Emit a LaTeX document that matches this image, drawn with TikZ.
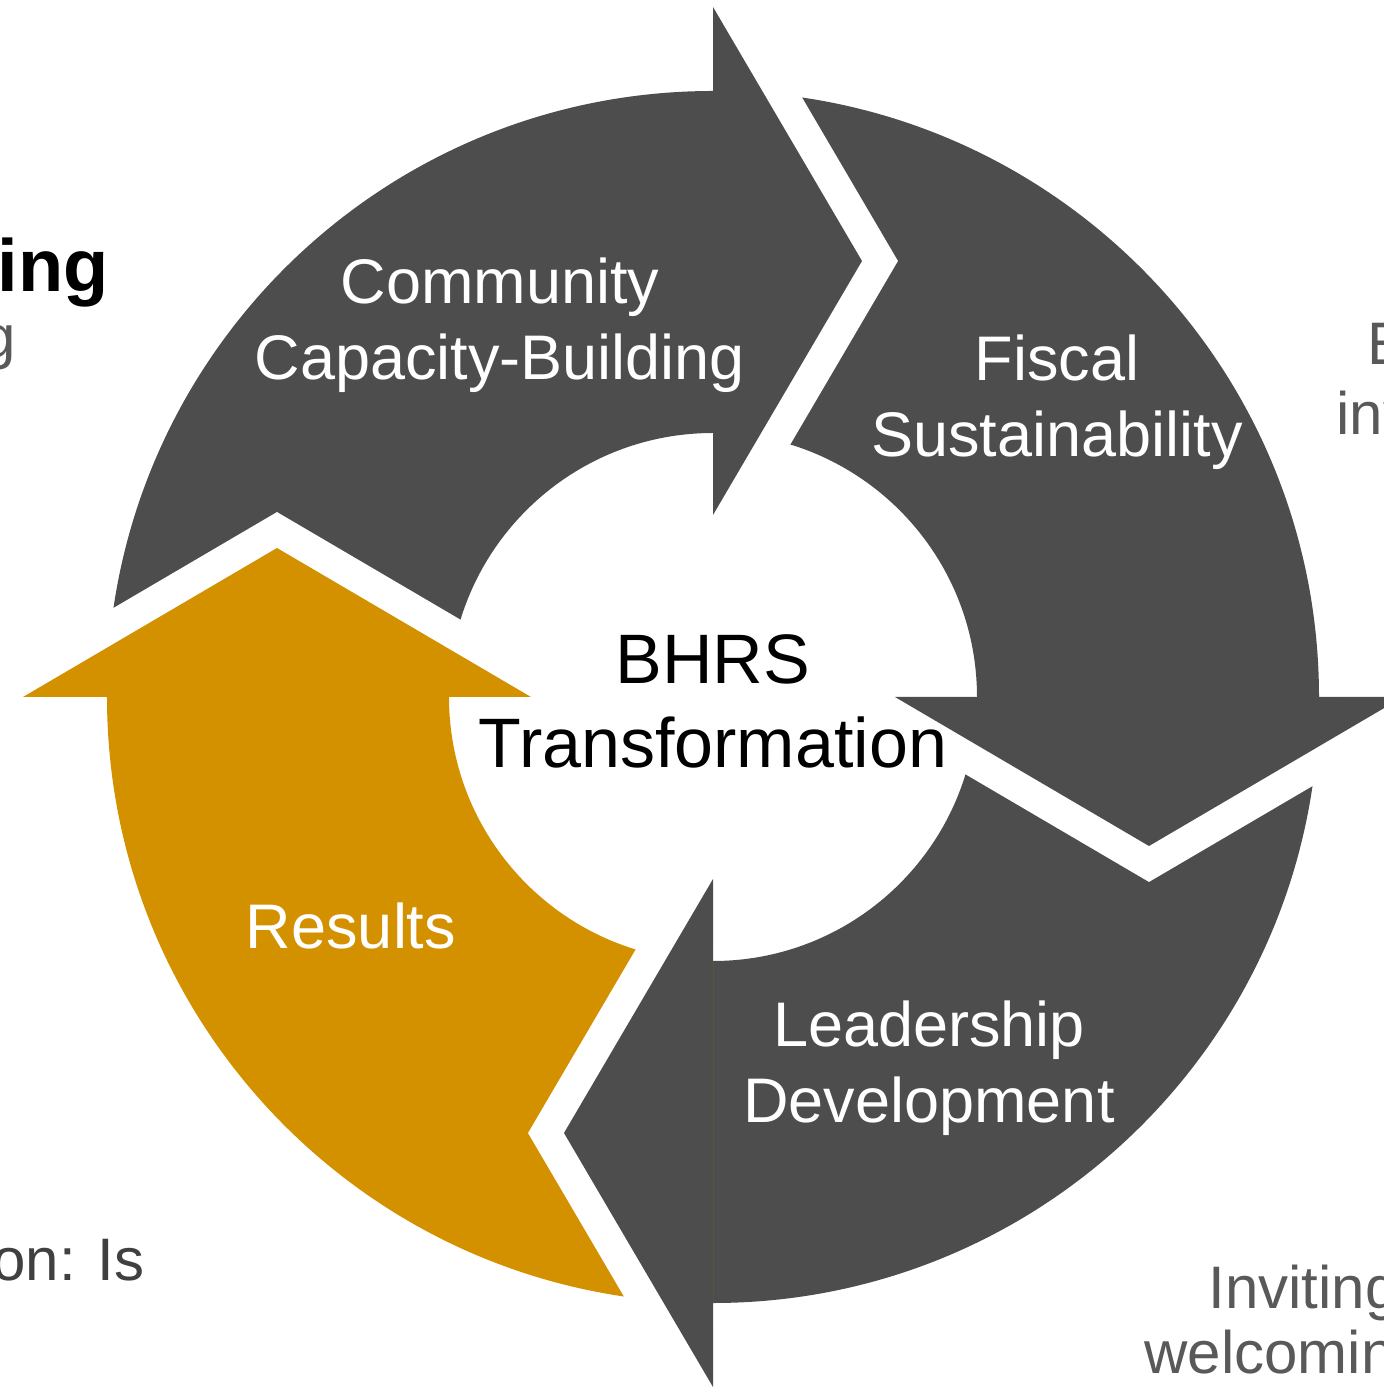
\documentclass[tikz,border=0pt]{standalone}
\usepackage{fontspec}
\setmainfont{Liberation Sans}
\usetikzlibrary{calc}
\definecolor{ringgray}{RGB}{77,77,77}
\definecolor{resultgold}{RGB}{211,145,0}
\definecolor{sidegray}{RGB}{89,89,89}
\definecolor{sidedark}{RGB}{64,64,64}

\begin{document}
\begin{tikzpicture}[x=0.5pt, y=0.5pt]
    \tikzstyle{ringlabel} = [white, inner sep=0pt, align=center, font=\fontsize{31.5pt}{38pt}\selectfont]
    \tikzstyle{hublabel} = [black, inner sep=0pt, align=center, font=\fontsize{35pt}{42pt}\selectfont]
    \tikzstyle{sidetext} = [sidegray, inner sep=0pt, font=\fontsize{30pt}{36pt}\selectfont]
    \tikzstyle{gapline} = [white, line width=31pt, line join=miter]

    % page frame, ring centred at the origin
    \clip (-713,-693) rectangle (671,697);
    \coordinate (hub) at (0,0);

    % ring segments: each runs clockwise up to the base of its own head
    \foreach \from/\to/\col in {180/90/ringgray, 90/0/ringgray, 0/-90/ringgray, -90/-180/resultgold}
        \fill[\col] (\from:606) arc[start angle=\from, end angle=\to, radius=606]
            -- (\to:264) arc[start angle=\to, end angle=\from, radius=264] -- cycle;

    % heads, with a white margin cut into the next segment
    \foreach \to/\col in {90/ringgray, 0/ringgray, -90/ringgray, -180/resultgold} {
        \coordinate (tip) at ($(\to:436)+(\to-90:149)$);
        \draw[gapline] (\to:690) -- (tip) -- (\to:182);
        \fill[\col] (\to:690) -- (tip) -- (\to:182) -- cycle;
    }

    \node[ringlabel] (community) at (-213,372) {Community\\Capacity-Building};
    \node[ringlabel] (fiscal) at (344,295) {Fiscal\\Sustainability};
    \node[ringlabel] (leadership) at (216,-371) {Leadership\\Development};
    \node[ringlabel] (results) at (-362,-229) {Results};
    \node[hublabel] (bhrs) at (0,-4) {BHRS\\Transformation};

    % neighbouring text running off the page
    \node[black, inner sep=0pt, anchor=base east, font=\fontsize{37pt}{44pt}\selectfont\bfseries] (lefthead) at (-604,405) {ing};
    \node[sidetext, anchor=base east] (leftsub) at (-697,339) {g};
    \node[sidetext, sidedark, anchor=base east] (leftnote) at (-568,-583) {on: Is};
    \node[sidetext, anchor=base west] (rightone) at (654,332) {E};
    \node[sidetext, anchor=base west] (righttwo) at (623,262) {inv};
    \node[sidetext, anchor=base west] (lowone) at (495,-611) {Inviting};
    \node[sidetext, anchor=base west] (lowtwo) at (431,-676) {welcomin};
\end{tikzpicture}
\end{document}
